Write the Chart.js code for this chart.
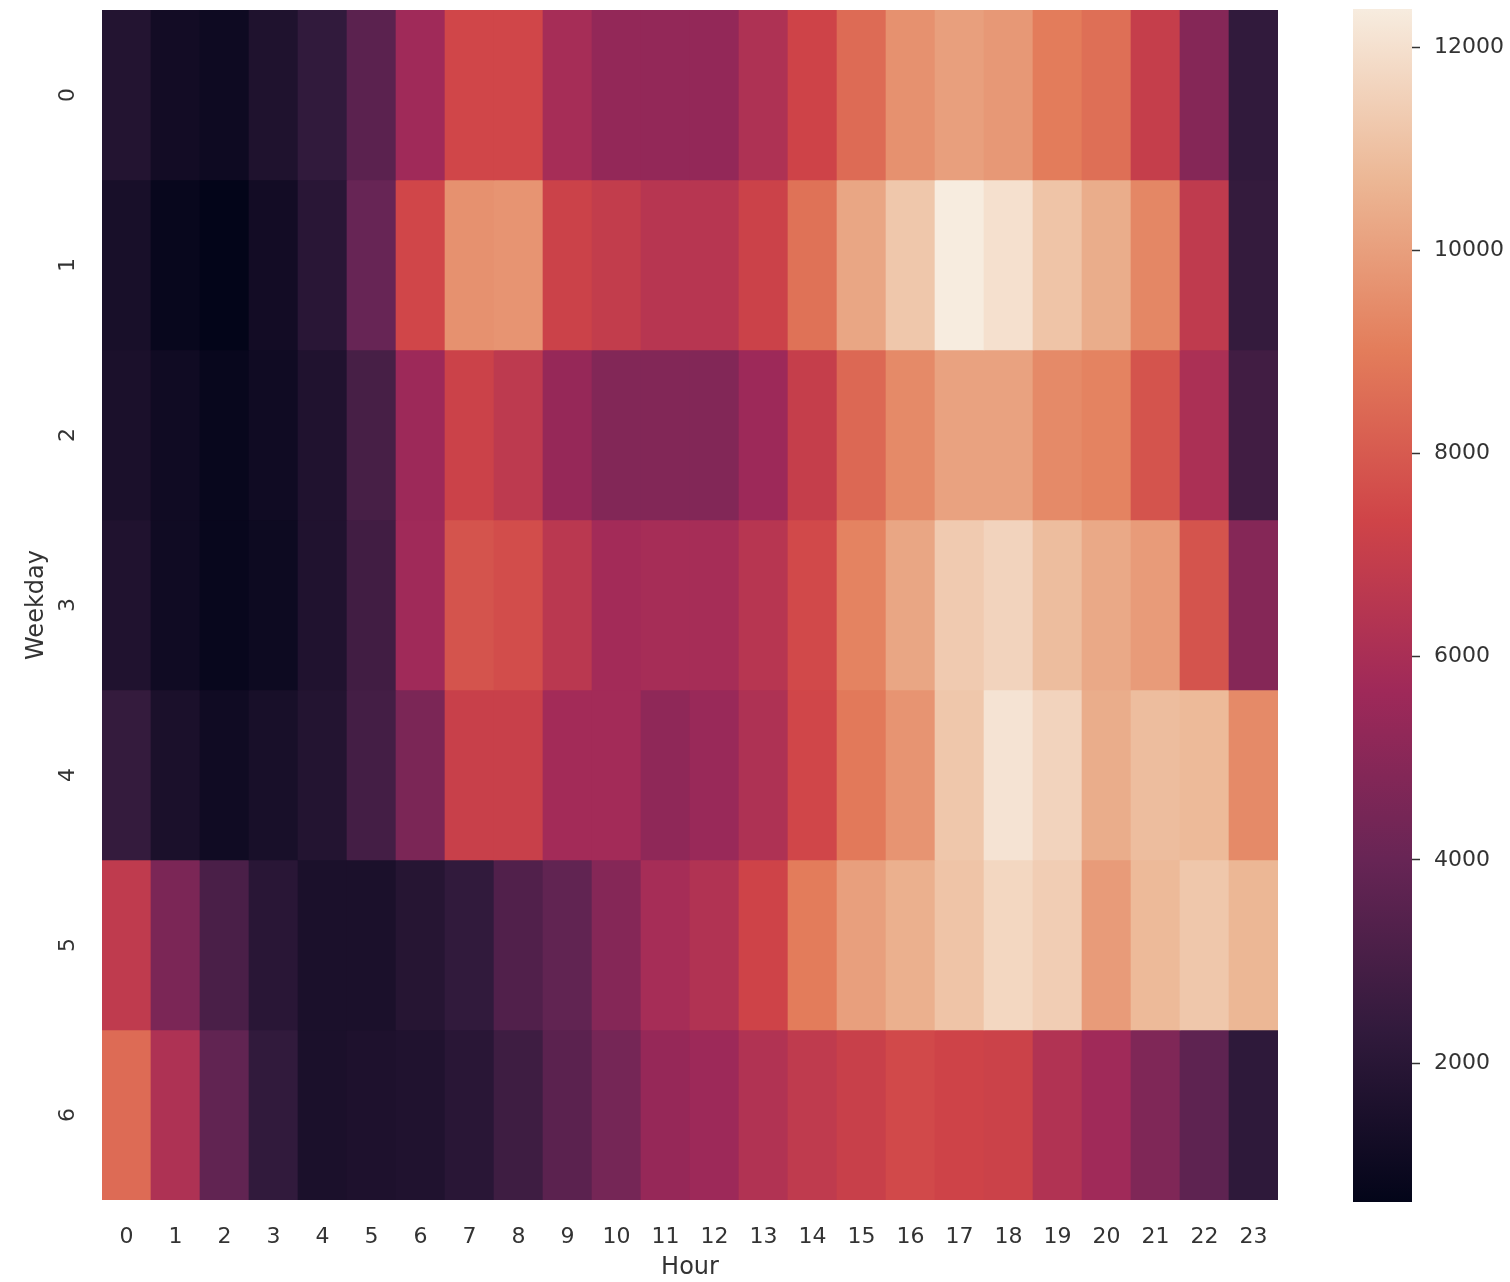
<!DOCTYPE html>
<html>
<head>
<meta charset="utf-8">
<script src="https://cdn.jsdelivr.net/npm/chart.js@4.4.0/dist/chart.umd.min.js"></script>
<style>
  body { margin: 0; background: #fff; width: 1510px; height: 1282px; overflow: hidden; position: relative; }
  .box { position: absolute; top: 0; }
</style>
</head>
<body>
<div class="box" style="left:0;width:1300px;height:1282px"><canvas id="heat"></canvas></div>
<div class="box" style="left:1340px;width:170px;height:1282px"><canvas id="cbar"></canvas></div>
<script>
// trips per weekday / hour

const hours = ['0','1','2','3','4','5','6','7','8','9','10','11','12','13','14','15','16','17','18','19','20','21','22','23'];
const weekdays = ['0','1','2','3','4','5','6'];

const day0 = [1800,1200,1050,1650,2300,3600,5700,7400,7400,5900,5300,5300,5300,6200,7300,8500,9600,10000,9800,9000,8600,7000,4900,2300];
const day1 = [1400,800,632,1200,2000,4000,7400,9600,9700,7200,6900,6500,6500,7200,8700,10200,11200,12376,12000,11100,10400,9300,6800,2400];
const day2 = [1500,1100,800,1100,1700,3000,5600,7200,6700,5400,4800,4800,4800,5600,7000,8400,9400,10100,10100,9400,9200,7800,6100,2800];
const day3 = [1700,1100,800,1000,1700,2800,5700,7800,7600,6600,5800,5900,5900,6500,7500,9200,10200,11300,11600,10900,10300,9900,7800,4900];
const day4 = [2400,1500,1100,1400,1800,2900,4600,7100,7100,5800,5800,5200,5500,6200,7400,8900,9700,11200,12100,11600,10400,10900,10800,9400];
const day5 = [6800,4600,3100,2000,1500,1500,1900,2300,3300,3800,4900,5900,6300,7300,9000,10000,10500,11100,11700,11400,9900,10800,11200,10700];
const day6 = [8500,6200,3800,2300,1500,1600,1700,2000,2700,3600,4400,5400,5600,6300,6800,7100,7500,7300,7200,6300,5700,4700,3700,2200];

const cbarTicks = [2000, 4000, 6000, 8000, 10000, 12000];

const rows = [day0, day1, day2, day3, day4, day5, day6];
const vmin = Math.min(...rows.flat());
const vmax = Math.max(...rows.flat());

// "rocket" as it shows up in the screenshot (a bit duller than plain sRGB)
const rocketStops = [
  [0, [3, 5, 25]],
  [1/7, [49, 26, 60]],
  [2/7, [103, 37, 85]],
  [3/7, [159, 41, 89]],
  [4/7, [207, 68, 72]],
  [5/7, [227, 125, 91]],
  [6/7, [236, 183, 149]],
  [1, [247, 236, 223]]
];

function rocket(v) {
  let t = (v - vmin) / (vmax - vmin);
  t = Math.max(0, Math.min(1, t));
  for (let i = 1; i < rocketStops.length; i++) {
    const [t1, c1] = rocketStops[i];
    const [t0, c0] = rocketStops[i - 1];
    if (t <= t1) {
      const f = (t - t0) / (t1 - t0);
      const c = c0.map((a, k) => Math.round(a + (c1[k] - a) * f));
      return `rgb(${c[0]},${c[1]},${c[2]})`;
    }
  }
  return 'rgb(247,236,223)';
}

const textColor = '#333';
const tickFont = { family: 'DejaVu Sans', size: 22 };
const titleFont = { family: 'DejaVu Sans', size: 24 };

// one dataset per weekday row, each cell is a floating bar spanning [row, row+1]
const datasets = rows.map((vals, r) => ({
  data: vals.map(() => [r, r + 1]),
  backgroundColor: vals.map(rocket),
  borderWidth: 0,
  grouped: false,
  barPercentage: 1,
  categoryPercentage: 1
}));

new Chart(document.getElementById('heat'), {
  type: 'bar',
  data: { labels: hours, datasets: datasets },
  options: {
    responsive: true,
    maintainAspectRatio: false,
    animation: false,
    layout: { padding: { top: 10, right: 22, left: 0, bottom: 0 } },
    plugins: { legend: { display: false }, tooltip: { enabled: false } },
    scales: {
      x: {
        grid: { display: false },
        border: { display: false },
        ticks: { font: tickFont, color: textColor, padding: 16, maxRotation: 0 },
        title: { display: true, text: 'Hour', font: titleFont, color: textColor, padding: { top: 0, bottom: 0 } },
        afterFit: (s) => { s.height = 82; s.paddingLeft = 0; s.paddingRight = 0; }
      },
      y: {
        type: 'linear',
        min: 0,
        max: 7,
        reverse: true,
        grid: { display: false },
        border: { display: false },
        afterBuildTicks: (s) => { s.ticks = weekdays.map((w, i) => ({ value: i + 0.5 })); },
        ticks: {
          font: tickFont,
          color: textColor,
          minRotation: 90,
          maxRotation: 90,
          crossAlign: 'center',
          padding: 19,
          callback: (v) => weekdays[Math.floor(v)]
        },
        title: { display: true, text: 'Weekday', font: titleFont, color: textColor, padding: { top: 22, bottom: 0 } },
        afterFit: (s) => { s.width = 102; s.paddingTop = 0; s.paddingBottom = 0; }
      }
    }
  }
});

// colour bar
new Chart(document.getElementById('cbar'), {
  type: 'bar',
  data: {
    labels: [''],
    datasets: [{
      data: [[vmin, vmax]],
      backgroundColor: (ctx) => {
        const chart = ctx.chart;
        if (!chart.chartArea) return null;
        const ys = chart.scales.y;
        const g = chart.ctx.createLinearGradient(0, ys.getPixelForValue(vmin), 0, ys.getPixelForValue(vmax));
        rocketStops.forEach(([t, c]) => g.addColorStop(t, `rgb(${c[0]},${c[1]},${c[2]})`));
        return g;
      },
      borderWidth: 0,
      barPercentage: 1,
      categoryPercentage: 1
    }]
  },
  options: {
    responsive: true,
    maintainAspectRatio: false,
    animation: false,
    layout: { padding: { top: 9, bottom: 80, left: 13, right: 0 } },
    plugins: { legend: { display: false }, tooltip: { enabled: false } },
    scales: {
      x: { display: false },
      y: {
        position: 'right',
        min: vmin,
        max: vmax,
        afterBuildTicks: (s) => { s.ticks = cbarTicks.map((v) => ({ value: v })); },
        grid: { drawOnChartArea: false, drawTicks: true, tickLength: 8, tickColor: textColor, tickWidth: 1.5 },
        border: { display: false },
        ticks: { font: tickFont, color: textColor, padding: 14, callback: (v) => String(v) },
        afterFit: (s) => { s.width = 98; s.paddingTop = 0; s.paddingBottom = 0; }
      }
    }
  }
});
</script>
</body>
</html>
